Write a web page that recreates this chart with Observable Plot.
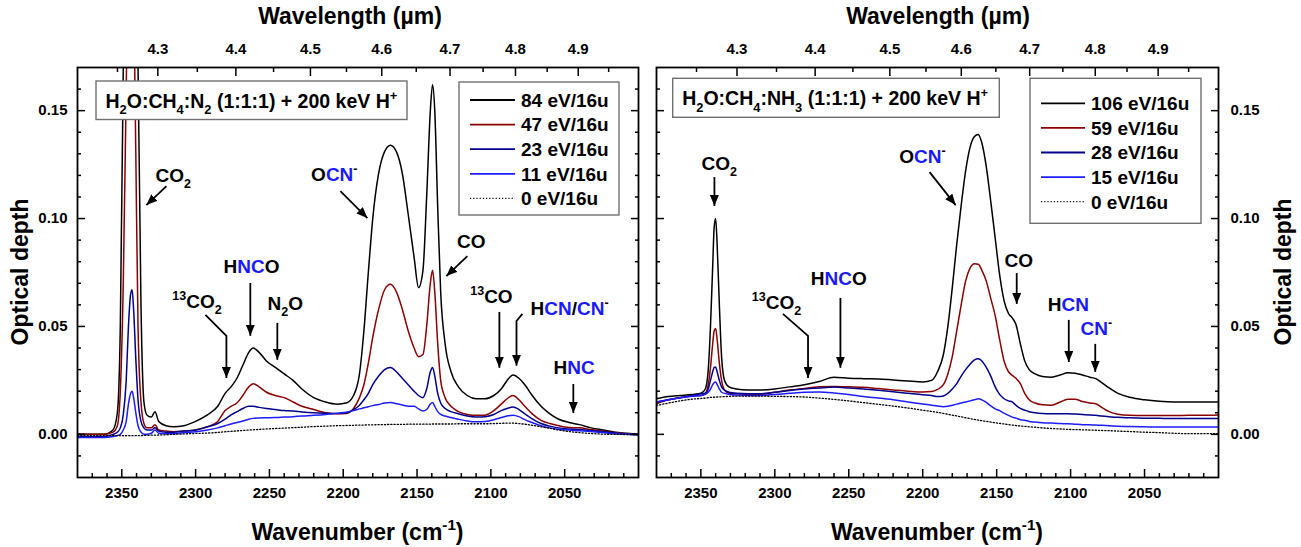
<!DOCTYPE html>
<html><head><meta charset="utf-8">
<script src="https://cdn.jsdelivr.net/npm/d3@7"></script>
<script src="https://cdn.jsdelivr.net/npm/@observablehq/plot@0.6"></script>
<style>
body{margin:0;background:#fff;}
#wrap{position:relative;width:1301px;height:547px;overflow:hidden;background:#fff;}
.pan{position:absolute;top:0;}
</style></head><body><div id="wrap"></div>
<script>
// ---------------- DATA ----------------
const wnLeft = [2380,2370,2362,2356,2353,2351,2349,2347,2345.5,2344,
  2343,2342,2340.5,2339,2337,2335,2333,2330,2327.5,2325,
  2320,2315,2308,2300,2292,2285,2280,2276,2272,2268,
  2264,2261,2257,2252,2246,2240,2234,2228,2220,2212,
  2204,2198,2193,2189,2186,2183,2180,2176,2172,2168,
  2164,2160,2156,2152,2149,2146,2143.5,2141,2139.5,2138,
  2136,2134,2131,2127,2122,2116,2110,2104,2098,2093,
  2089,2085,2081,2077,2072,2066,2060,2054,2047,2040,
  2032,2024,2016,2008,2000];
const left84 = [0.000,0.000,0.000,0.002,0.010,0.050,0.170,0.320,0.420,0.450,
  0.450,0.400,0.280,0.170,0.060,0.015,0.009,0.008,0.0105,0.006,
  0.004,0.0035,0.004,0.006,0.009,0.013,0.019,0.022,0.026,0.032,
  0.038,0.040,0.038,0.034,0.031,0.028,0.025,0.021,0.017,0.015,
  0.014,0.0145,0.018,0.028,0.048,0.075,0.100,0.121,0.131,0.134,
  0.131,0.121,0.102,0.082,0.068,0.076,0.110,0.150,0.162,0.150,
  0.105,0.066,0.042,0.029,0.022,0.018,0.0165,0.0165,0.018,0.021,
  0.025,0.0275,0.026,0.023,0.018,0.013,0.0095,0.007,0.0055,0.0045,
  0.003,0.002,0.001,0.0005,0.000];
const left47 = [0.000,0.000,0.000,0.001,0.004,0.020,0.070,0.160,0.230,0.260,
  0.260,0.210,0.130,0.050,0.015,0.005,0.003,0.003,0.0045,0.002,
  0.0015,0.0012,0.0015,0.002,0.0035,0.006,0.011,0.013,0.0145,0.018,
  0.022,0.0235,0.022,0.0195,0.018,0.017,0.015,0.013,0.0115,0.010,
  0.0095,0.0097,0.012,0.017,0.023,0.033,0.045,0.058,0.067,0.0695,
  0.066,0.058,0.048,0.040,0.036,0.037,0.050,0.070,0.076,0.066,
  0.042,0.025,0.017,0.013,0.0105,0.0092,0.0088,0.0089,0.011,0.014,
  0.0165,0.018,0.016,0.013,0.0095,0.0065,0.005,0.004,0.0032,0.003,
  0.0022,0.0015,0.0008,0.0003,0.000];
const left23 = [-0.001,-0.001,-0.001,0.000,0.001,0.003,0.009,0.025,0.050,0.065,
  0.067,0.058,0.035,0.016,0.006,0.003,0.002,0.002,0.003,0.0015,
  0.001,0.001,0.0015,0.002,0.0035,0.005,0.007,0.009,0.0105,0.012,
  0.013,0.013,0.0125,0.012,0.0115,0.011,0.0108,0.0104,0.010,0.0098,
  0.0097,0.010,0.0115,0.0135,0.016,0.019,0.023,0.027,0.030,0.031,
  0.029,0.026,0.023,0.020,0.018,0.017,0.021,0.029,0.031,0.027,
  0.019,0.0145,0.012,0.0105,0.0095,0.0085,0.008,0.0082,0.0092,0.011,
  0.012,0.0127,0.0115,0.0095,0.0072,0.005,0.0038,0.003,0.0025,0.0022,
  0.0017,0.0012,0.0006,0.0002,0.000];
const left11 = [-0.0015,-0.0015,-0.0015,-0.001,-0.0005,0.000,0.002,0.006,0.014,0.019,
  0.020,0.017,0.010,0.004,0.001,0.000,0.000,0.0005,0.002,0.0005,
  0.0003,0.0003,0.0008,0.0012,0.002,0.003,0.004,0.0048,0.0055,0.0062,
  0.007,0.0074,0.0076,0.0077,0.0078,0.008,0.0082,0.0085,0.0088,0.0092,
  0.0098,0.0103,0.011,0.0118,0.0123,0.0128,0.0133,0.0138,0.0145,0.0147,
  0.0142,0.0136,0.013,0.013,0.0118,0.0108,0.0115,0.014,0.0147,0.013,
  0.0105,0.0092,0.0085,0.0078,0.007,0.0062,0.0058,0.006,0.0068,0.0078,
  0.0085,0.0089,0.0082,0.0068,0.0055,0.004,0.003,0.0024,0.002,0.0017,
  0.0013,0.0008,0.0003,0.000,-0.0003];
const left0 = [-0.0006,-0.0006,-0.0006,-0.0006,-0.0006,-0.0006,-0.0006,-0.0006,-0.0006,-0.0006,
  -0.0006,-0.0006,-0.0006,-0.0006,-0.0006,-0.0005,-0.0005,-0.0004,-0.0004,-0.0003,
  -0.0002,0.000,0.0002,0.0004,0.0006,0.0009,0.0012,0.0014,0.0016,0.0018,
  0.002,0.0021,0.0023,0.0025,0.0027,0.0029,0.0031,0.0033,0.0036,0.0038,
  0.004,0.0041,0.0042,0.0043,0.0043,0.0044,0.0044,0.0045,0.0045,0.0046,
  0.0046,0.0046,0.0047,0.0047,0.0047,0.0047,0.0047,0.0047,0.0048,0.0048,
  0.0048,0.0048,0.0048,0.0048,0.0049,0.0049,0.0049,0.0049,0.005,0.0051,
  0.0052,0.0052,0.005,0.0047,0.0042,0.0035,0.0028,0.002,0.0013,0.0008,
  0.0004,0.0001,0.0000,-0.0001,-0.0002];

const wnRight = [2380,2372,2364,2356,2350,2347,2345,2343.5,2342,2341,
  2340,2339,2337.5,2336,2334,2331,2326,2318,2310,2300,
  2290,2280,2270,2260,2250,2240,2230,2220,2210,2200,
  2194,2190,2186,2183,2180,2177,2174,2171,2168,2165,
  2162.5,2160,2157,2154,2151,2148,2145,2142,2139.5,2137,
  2134,2131,2128,2124,2119,2113,2107,2102,2097,2092,
  2087,2083,2079,2074,2068,2060,2050,2040,2030,2020,
  2010,2000];
const right106 = [0.0165,0.0175,0.018,0.0185,0.019,0.021,0.030,0.050,0.078,0.096,
  0.100,0.088,0.060,0.036,0.025,0.022,0.021,0.0205,0.0205,0.021,
  0.022,0.023,0.0245,0.0265,0.026,0.0258,0.0257,0.0252,0.0247,0.0243,
  0.025,0.029,0.037,0.050,0.068,0.088,0.106,0.122,0.133,0.138,
  0.139,0.135,0.124,0.108,0.091,0.074,0.062,0.056,0.054,0.051,
  0.042,0.034,0.030,0.028,0.0268,0.0265,0.0275,0.0285,0.0283,0.0275,
  0.0265,0.0258,0.024,0.0215,0.019,0.0172,0.016,0.0153,0.015,0.015,
  0.015,0.015];
const right59 = [0.0142,0.016,0.017,0.0178,0.018,0.019,0.023,0.031,0.042,0.048,
  0.049,0.044,0.033,0.025,0.0205,0.019,0.0188,0.0185,0.0185,0.0195,
  0.0205,0.0213,0.022,0.0222,0.022,0.0218,0.0212,0.0206,0.020,0.0196,
  0.0198,0.0208,0.023,0.028,0.036,0.048,0.060,0.071,0.077,0.079,
  0.0788,0.076,0.071,0.063,0.055,0.044,0.034,0.029,0.0273,0.026,
  0.0235,0.019,0.016,0.0145,0.0137,0.0135,0.015,0.0163,0.0163,0.0152,
  0.0145,0.0142,0.0125,0.0105,0.0093,0.0088,0.0087,0.0087,0.0087,0.0088,
  0.0088,0.009];
const right28 = [0.015,0.016,0.017,0.018,0.0188,0.019,0.021,0.025,0.029,0.031,
  0.0312,0.029,0.025,0.022,0.0205,0.0195,0.019,0.0188,0.0188,0.0195,
  0.0203,0.021,0.0215,0.0219,0.0215,0.021,0.0204,0.0197,0.019,0.0183,
  0.018,0.0175,0.0178,0.019,0.021,0.0235,0.027,0.030,0.0325,0.0345,
  0.035,0.034,0.031,0.027,0.022,0.0185,0.0165,0.0155,0.015,0.0135,
  0.012,0.0112,0.0105,0.010,0.0097,0.0096,0.0096,0.0096,0.0094,0.0092,
  0.009,0.0088,0.0085,0.0082,0.0079,0.0077,0.0075,0.0074,0.0073,0.0073,
  0.0073,0.0073];
const right15 = [0.015,0.016,0.017,0.0177,0.018,0.0185,0.0195,0.021,0.023,0.024,
  0.0242,0.0232,0.021,0.0195,0.019,0.0185,0.0182,0.018,0.018,0.0185,
  0.019,0.0195,0.0196,0.0192,0.0185,0.0175,0.0168,0.016,0.015,0.0141,
  0.0135,0.0131,0.0128,0.013,0.0135,0.014,0.0145,0.015,0.0155,0.016,
  0.0165,0.016,0.0148,0.0132,0.0118,0.011,0.0098,0.0088,0.008,0.0075,
  0.0068,0.0065,0.006,0.0057,0.0054,0.0052,0.005,0.0049,0.0047,0.0045,
  0.0044,0.0043,0.0042,0.004,0.0038,0.0036,0.0035,0.0034,0.0034,0.0034,
  0.0034,0.0034];
const right0 = [0.0134,0.0145,0.0155,0.0163,0.0166,0.0168,0.017,0.0171,0.0172,0.0172,
  0.0173,0.0173,0.0174,0.0174,0.0175,0.0176,0.0177,0.0177,0.0177,0.0176,
  0.0175,0.0173,0.0168,0.0162,0.0155,0.0147,0.0139,0.0131,0.0122,0.0112,
  0.0106,0.0102,0.0097,0.0093,0.0089,0.0085,0.0081,0.0077,0.0073,0.0069,
  0.0066,0.0063,0.006,0.0057,0.0054,0.0051,0.0048,0.0045,0.0043,0.0041,
  0.0039,0.0037,0.0035,0.0033,0.003,0.0027,0.0025,0.0023,0.0022,0.0021,
  0.002,0.0019,0.0018,0.0017,0.0015,0.0013,0.001,0.0008,0.0005,0.0003,
  0.0003,0.0003];

const legendLeft = ["84 eV/16u","47 eV/16u","23 eV/16u","11 eV/16u","0 eV/16u"];
const legendRight = ["106 eV/16u","59 eV/16u","28 eV/16u","15 eV/16u","0 eV/16u"];
const lineColors = ["#000000","#8b0000","#00008b","#1c1cff","#000000"];

const xMajor = [2350,2300,2250,2200,2150,2100,2050];
const xMinor = [2370,2360,2340,2330,2320,2310,2290,2280,2270,2260,2240,2230,2220,2210,2190,2180,2170,2160,2140,2130,2120,2110,2090,2080,2070,2060,2040,2030,2020,2010];
const yMajor = [0,0.05,0.10,0.15];
const yMinor = [-0.01,0.01,0.02,0.03,0.04,0.06,0.07,0.08,0.09,0.11,0.12,0.13,0.14,0.16];
const lamMajor = [4.3,4.4,4.5,4.6,4.7,4.8,4.9];
const lamMinor = [4.25,4.35,4.45,4.55,4.65,4.75,4.85,4.95];

const BLUE = "#1a1aff";
const titleLeft = [["H"],["2","sub"],["O:CH"],["4","sub"],[":N"],["2","sub"],[" (1:1:1) + 200 keV H"],["+","sup"]];
const titleRight = [["H"],["2","sub"],["O:CH"],["4","sub"],[":NH"],["3","sub"],[" (1:1:1) + 200 keV H"],["+","sup"]];

const labelsLeft = [
  {w:2314.8, v:0.1167, parts:[["CO"],["2","sub"]]},
  {w:2205.7, v:0.1170, parts:[["O"],["CN",null,BLUE],["-","sup"]]},
  {w:2112.9, v:0.0861, parts:[["CO"]]},
  {w:2315.4, v:0.0583, anchor:"start", parts:[["13","sup"],["CO"],["2","sub"]]},
  {w:2261.8, v:0.0745, parts:[["H"],["NC",null,BLUE],["O"]]},
  {w:2238.9, v:0.0574, parts:[["N"],["2","sub"],["O"]]},
  {w:2099.3, v:0.0606, parts:[["13","sup"],["CO"]]},
  {w:2072.8, v:0.0551, anchor:"start", parts:[["H"],["CN",null,BLUE],["/"],["CN",null,BLUE],["-","sup"]]},
  {w:2043.3, v:0.0278, parts:[["H"],["NC",null,BLUE]]}
];
const arrowsLeft = [
  [[2319.4,0.1148],[2333.0,0.1060]],
  [[2201.6,0.1125],[2183.3,0.1000]],
  [[2115.6,0.0824],[2129.8,0.0731]],
  [[2293.0,0.0551],[2278.8,0.0454],[2278.8,0.0259]],
  [[2262.6,0.0699],[2262.6,0.0454]],
  [[2244.3,0.0514],[2244.3,0.0343]],
  [[2093.9,0.0565],[2093.9,0.0306]],
  [[2078.3,0.0556],[2082.3,0.0523],[2082.3,0.0315]],
  [[2043.8,0.0231],[2043.8,0.0097]]
];
const labelsRight = [
  {w:2337.3, v:0.1222, parts:[["CO"],["2","sub"]]},
  {w:2199.8, v:0.1255, parts:[["O"],["CN",null,BLUE],["-","sup"]]},
  {w:2134.7, v:0.0773, parts:[["CO"]]},
  {w:2315.2, v:0.0579, anchor:"start", parts:[["13","sup"],["CO"],["2","sub"]]},
  {w:2256.4, v:0.0690, parts:[["H"],["NC",null,BLUE],["O"]]},
  {w:2101.2, v:0.0569, parts:[["H"],["CN",null,BLUE]]},
  {w:2082.3, v:0.0458, parts:[["CN",null,BLUE],["-","sup"]]}
];
const arrowsRight = [
  [[2340.5,0.1190],[2340.5,0.1056]],
  [[2195.0,0.1213],[2177.4,0.1060]],
  [[2136.1,0.0745],[2136.1,0.0602]],
  [[2294.2,0.0556],[2277.2,0.0454],[2277.2,0.0259]],
  [[2255.3,0.0630],[2255.3,0.0306]],
  [[2100.9,0.0528],[2100.9,0.0333]],
  [[2083.0,0.0417],[2083.0,0.0287]]
];

// ---------------- RENDER ----------------
const FONT = '"Liberation Sans", Arial, Helvetica, sans-serif';

function richText(sel, x, y, parts, size, anchor) {
  const t = sel.append("text").attr("x", x).attr("y", y)
    .attr("text-anchor", anchor || "middle").attr("font-family", FONT)
    .attr("font-weight", "bold").attr("font-size", size).attr("fill", "#000");
  let shift = 0;
  for (const p of parts) {
    const [s, kind, col] = p;
    const target = kind === "sub" ? size * 0.32 : kind === "sup" ? -size * 0.42 : 0;
    const ts = t.append("tspan").attr("dy", target - shift).text(s);
    if (kind) ts.attr("font-size", size * 0.66);
    if (col) ts.attr("fill", col);
    shift = target;
  }
  return t;
}

function buildPanel(cfg) {
  const marks = [];
  cfg.series.forEach((vals, i) => {
    if (vals.length !== cfg.wn.length) console.error("length mismatch", i, vals.length, cfg.wn.length);
    const data = cfg.wn.map((w, j) => ({w, v: vals[j]}));
    marks.push(Plot.line(data, {x: "w", y: "v", stroke: lineColors[i],
      strokeWidth: i === 4 ? 1.3 : 1.5, strokeDasharray: i === 4 ? "1.2,2" : "none",
      curve: "monotone-x", clip: true}));
  });
  const tk = {label: null, tickFormat: () => "", strokeWidth: 1.5};
  const lamMaj = lamMajor.map(l => 1e4 / l), lamMin = lamMinor.map(l => 1e4 / l);
  const txt = {fontSize: 15, fontWeight: "bold", label: null, tickSize: 0};
  marks.push(
    Plot.axisX(xMajor, {anchor: "bottom", tickSize: -8, ...tk}),
    Plot.axisX(xMinor, {anchor: "bottom", tickSize: -4, ...tk}),
    Plot.axisX(lamMaj, {anchor: "top", tickSize: -8, ...tk}),
    Plot.axisX(lamMin, {anchor: "top", tickSize: -4, ...tk}),
    Plot.axisY(yMajor, {anchor: "left", tickSize: -8, ...tk}),
    Plot.axisY(yMinor, {anchor: "left", tickSize: -4, ...tk}),
    Plot.axisY(yMajor, {anchor: "right", tickSize: -8, ...tk}),
    Plot.axisY(yMinor, {anchor: "right", tickSize: -4, ...tk}),
    Plot.axisX(xMajor, {anchor: "bottom", tickPadding: 10, tickFormat: d => String(d), ...txt}),
    Plot.axisX(lamMaj, {anchor: "top", tickPadding: 14, tickFormat: w => (1e4 / w).toFixed(1), ...txt}),
    Plot.axisY(yMajor, {anchor: cfg.ySide, tickPadding: cfg.ySide === "left" ? 10 : 12, tickFormat: d3.format(".2f"), ...txt}),
    Plot.frame({stroke: "#000", strokeWidth: 1.8})
  );
  const plot = Plot.plot({
    width: cfg.width, height: 547,
    marginLeft: cfg.ml, marginRight: cfg.mr, marginTop: 67, marginBottom: 70,
    x: {domain: [2380, 2000]},
    y: {domain: [-0.02, 0.17]},
    style: {fontFamily: FONT, fontWeight: "bold", fontSize: "15px", color: "#000", background: "transparent", overflow: "visible"},
    marks
  });
  const sx = plot.scale("x"), sy = plot.scale("y");
  const svg = d3.select(plot);
  const id = "ah" + cfg.key;
  svg.append("defs").append("marker").attr("id", id)
    .attr("markerUnits", "userSpaceOnUse").attr("markerWidth", 12).attr("markerHeight", 9)
    .attr("refX", 11).attr("refY", 4.5).attr("orient", "auto")
    .append("path").attr("d", "M0,0L11,4.5L0,9Z").attr("fill", "#000");
  const line = d3.line().x(p => sx.apply(p[0])).y(p => sy.apply(p[1]));
  const ga = svg.append("g");
  for (const a of cfg.arrows) {
    ga.append("path").attr("d", line(a)).attr("fill", "none").attr("stroke", "#000")
      .attr("stroke-width", 1.8).attr("marker-end", `url(#${id})`);
  }
  const gl = svg.append("g");
  for (const L of cfg.labels) {
    richText(gl, sx.apply(L.w), sy.apply(L.v), L.parts, 19, L.anchor || "middle");
  }
  // title box
  const tb = cfg.tbox;
  svg.append("rect").attr("x", tb.x).attr("y", tb.y).attr("width", tb.w).attr("height", tb.h)
    .attr("fill", "#fff").attr("stroke", "#707070").attr("stroke-width", 1.4);
  richText(svg, tb.x + 9.5, tb.y + 27, cfg.title, 19.5, "start");
  // legend
  const lb = cfg.lbox;
  svg.append("rect").attr("x", lb.x).attr("y", lb.y).attr("width", lb.w).attr("height", lb.h)
    .attr("fill", "#fff").attr("stroke", "#707070").attr("stroke-width", 1.4);
  cfg.names.forEach((n, i) => {
    const cy = lb.y + lb.first + i * 24.6;
    svg.append("line").attr("x1", lb.x + 11).attr("x2", lb.x + 11 + lb.sw).attr("y1", cy).attr("y2", cy)
      .attr("stroke", lineColors[i]).attr("stroke-width", i === 4 ? 1.3 : 1.8)
      .attr("stroke-dasharray", i === 4 ? "1.2,2" : null);
    svg.append("text").attr("x", lb.x + 17 + lb.sw).attr("y", cy + 6.8).attr("text-anchor", "start")
      .attr("font-family", FONT).attr("font-weight", "bold").attr("font-size", 19).text(n);
  });
  // axis titles
  svg.append("text").attr("x", cfg.topX).attr("y", 24).attr("text-anchor", "middle")
    .attr("font-family", FONT).attr("font-weight", "bold").attr("font-size", 23).text("Wavelength (\u00b5m)");
  richText(svg, (cfg.ml + cfg.width - cfg.mr) / 2, 540, [["Wavenumber (cm"],["-1","sup"],[")"]], 23, "middle");
  svg.append("text").attr("transform", `translate(${cfg.yTitleX},272) rotate(-90)`).attr("text-anchor", "middle")
    .attr("font-family", FONT).attr("font-weight", "bold").attr("font-size", 23).text("Optical depth");
  return plot;
}

const wrap = document.getElementById("wrap");
const pL = buildPanel({key: "L", wn: wnLeft, series: [left84, left47, left23, left11, left0], names: legendLeft,
  width: 650, ml: 77, mr: 12, ySide: "left", labels: labelsLeft, arrows: arrowsLeft,
  tbox: {x: 96, y: 81, w: 311, h: 38.5}, title: titleLeft,
  lbox: {x: 459, y: 82, w: 160, h: 133, first: 18, sw: 45},
  topX: 350, yTitleX: 28});
const pR = buildPanel({key: "R", wn: wnRight, series: [right106, right59, right28, right15, right0], names: legendRight,
  width: 651, ml: 6, mr: 83, ySide: "right", labels: labelsRight, arrows: arrowsRight,
  tbox: {x: 22.7, y: 78.3, w: 326.6, h: 39}, title: titleRight,
  lbox: {x: 380, y: 78.3, w: 171, h: 145, first: 25, sw: 44},
  topX: 288, yTitleX: 641});
const dL = document.createElement("div"); dL.className = "pan"; dL.style.left = "0px"; dL.appendChild(pL);
const dR = document.createElement("div"); dR.className = "pan"; dR.style.left = "650px"; dR.appendChild(pR);
wrap.appendChild(dL); wrap.appendChild(dR);
</script></body></html>
